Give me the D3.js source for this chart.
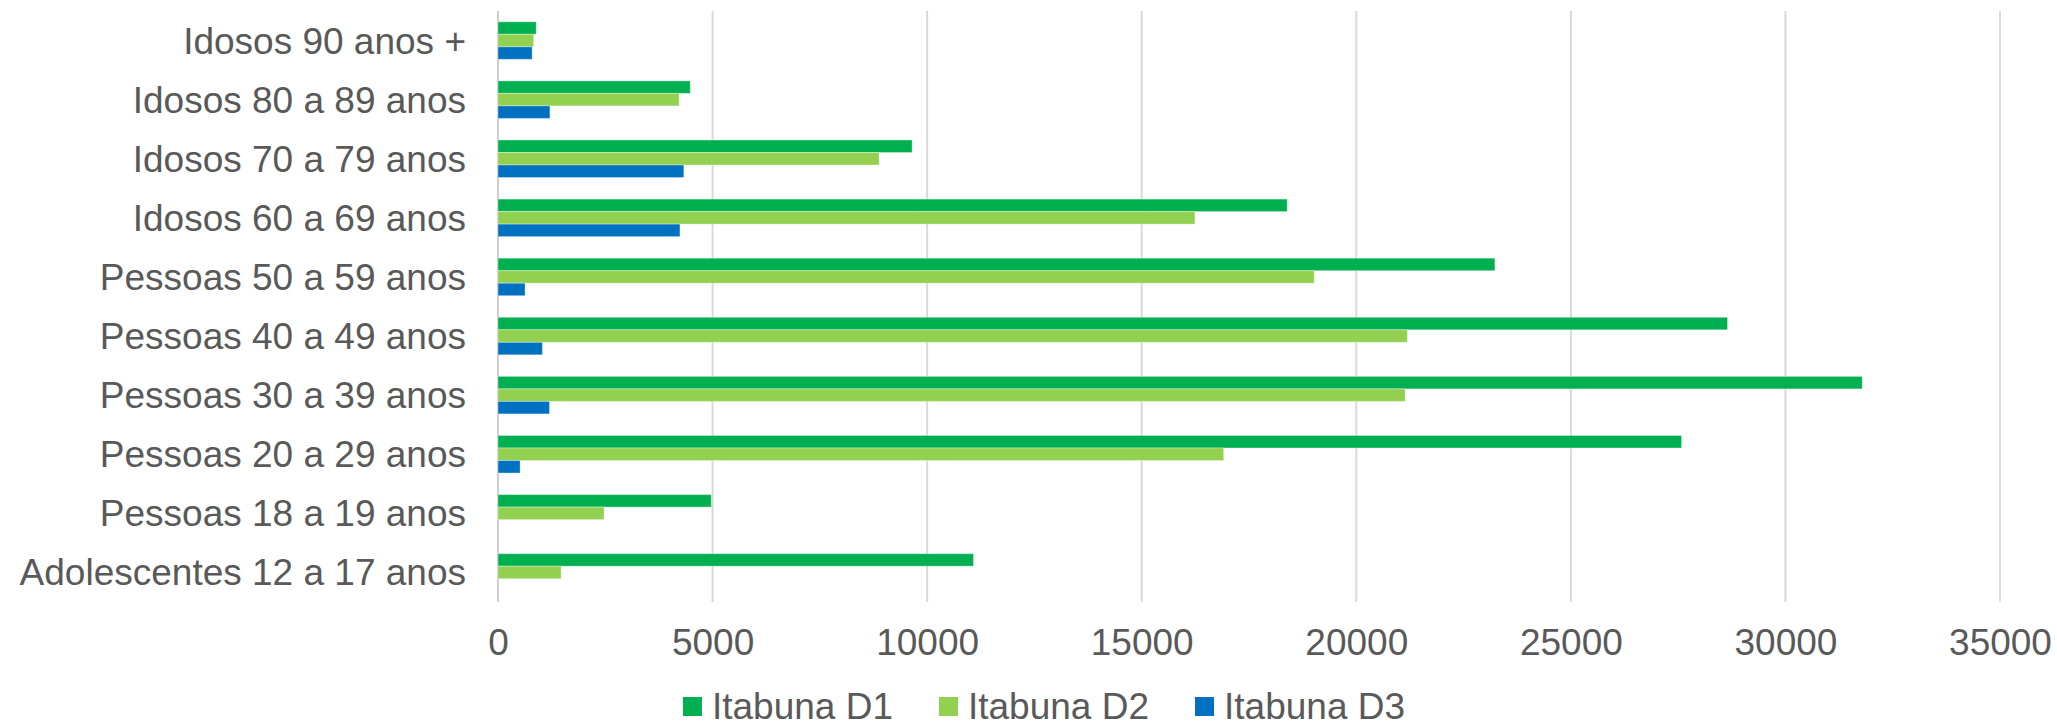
<!DOCTYPE html>
<html>
<head>
<meta charset="utf-8">
<script src="https://cdn.jsdelivr.net/npm/d3@7"></script>
<style>
	body { margin: 0; background: #fff; }
	svg { display: block; }
	text { font-family: "Liberation Sans", Arial, sans-serif; fill: #595959; }
</style>
</head>
<body>
<script>
// categories top to bottom
var categories = [
	"Idosos 90 anos +",
	"Idosos 80 a 89 anos",
	"Idosos 70 a 79 anos",
	"Idosos 60 a 69 anos",
	"Pessoas 50 a 59 anos",
	"Pessoas 40 a 49 anos",
	"Pessoas 30 a 39 anos",
	"Pessoas 20 a 29 anos",
	"Pessoas 18 a 19 anos",
	"Adolescentes 12 a 17 anos"
];
var seriesNames = ["Itabuna D1", "Itabuna D2", "Itabuna D3"];
var d1 = [890, 4480, 9650, 18390, 23230, 28650, 31790, 27580, 4970, 11080];
var d2 = [830, 4220, 8880, 16240, 19020, 21190, 21140, 16910, 2470, 1470];
var d3v = [795, 1210, 4330, 4240, 630, 1035, 1200, 515, 0, 0];
var xTicks = [0, 5000, 10000, 15000, 20000, 25000, 30000, 35000];
var colors = ["#00B050", "#92D050", "#0070C0"];

var SVG_WIDTH = 2057, SVG_HEIGHT = 727;
var MARGIN = { LEFT: 498, RIGHT: 57, TOP: 11, BOTTOM: 125 };
var FONT = 37;

function loadData() {
	var series = [d1, d2, d3v];
	return categories.map(function (c, i) {
		return {
			category: c,
			values: series.map(function (s, j) { return { name: seriesNames[j], value: s[i], k: j }; })
		};
	});
}

function drawChart(data) {
	var svg = d3.select("body").append("svg")
		.attr("width", SVG_WIDTH).attr("height", SVG_HEIGHT);

	var xScale = d3.scaleLinear()
		.domain([0, 35000])
		.range([MARGIN.LEFT, SVG_WIDTH - MARGIN.RIGHT]);
	var yScale = d3.scaleBand()
		.domain(categories)
		.range([MARGIN.TOP, SVG_HEIGHT - MARGIN.BOTTOM])
		.paddingInner(0.365)
		.paddingOuter(0.1825);
	var ySub = d3.scaleBand()
		.domain(d3.range(seriesNames.length))
		.range([0, yScale.bandwidth()]);

	var y0 = MARGIN.TOP, y1 = SVG_HEIGHT - MARGIN.BOTTOM;

	// vertical gridlines
	svg.append("g").selectAll("line")
		.data(xTicks)
		.enter()
		.append("line")
		.attr("x1", function (d) { return xScale(d); })
		.attr("x2", function (d) { return xScale(d); })
		.attr("y1", y0)
		.attr("y2", y1)
		.attr("stroke", function (d) { return d == 0 ? "#CFCFCF" : "#D9D9D9"; })
		.attr("stroke-width", 2);

	// bars
	var groups = svg.append("g").selectAll("g")
		.data(data)
		.enter()
		.append("g")
		.attr("transform", function (d) { return "translate(0," + yScale(d.category) + ")"; });
	groups.selectAll("rect")
		.data(function (d) { return d.values.filter(function (v) { return v.value > 0; }); })
		.enter()
		.append("rect")
		.attr("x", xScale(0))
		.attr("y", function (d) { return ySub(d.k); })
		.attr("width", function (d) { return xScale(d.value) - xScale(0); })
		.attr("height", ySub.bandwidth())
		.attr("fill", function (d) { return colors[d.k]; })
		.attr("stroke", "#ffffff")
		.attr("stroke-opacity", 0.35)
		.attr("stroke-width", 1);

	// category labels
	svg.append("g").selectAll("text")
		.data(categories)
		.enter()
		.append("text")
		.attr("x", MARGIN.LEFT - 32)
		.attr("y", function (d) { return yScale(d) + yScale.bandwidth() / 2; })
		.attr("dy", "0.35em")
		.attr("text-anchor", "end")
		.style("font-size", FONT + "px")
		.text(function (d) { return d; });

	// x tick labels
	var xAxis = d3.axisBottom(xScale).tickValues(xTicks).tickFormat(d3.format("d")).tickSize(0).tickPadding(0);
	var gx = svg.append("g").attr("transform", "translate(0," + 642 + ")").call(xAxis);
	gx.select(".domain").remove();
	gx.selectAll("text")
		.attr("y", 0)
		.attr("dy", "0.35em")
		.attr("fill", "#595959")
		.style("font-family", "'Liberation Sans', Arial, sans-serif")
		.style("font-size", FONT + "px");

	// legend
	var legend = svg.append("g");
	var items = legend.selectAll("g")
		.data(seriesNames)
		.enter()
		.append("g");
	items.append("rect")
		.attr("x", 0).attr("y", -9)
		.attr("width", 19).attr("height", 19)
		.attr("fill", function (d, i) { return colors[i]; });
	items.append("text")
		.attr("x", 29)
		.attr("dy", "0.35em")
		.style("font-size", FONT + "px")
		.text(function (d) { return d; });
	var offset = 0;
	items.each(function () {
		var w = d3.select(this).select("text").node().getComputedTextLength();
		d3.select(this).attr("transform", "translate(" + offset + ",0)");
		offset += 29 + w + 46;
	});
	var total = offset - 46;
	legend.attr("transform", "translate(" + (1044 - total / 2) + ",706)");
}

drawChart(loadData());
</script>
</body>
</html>
